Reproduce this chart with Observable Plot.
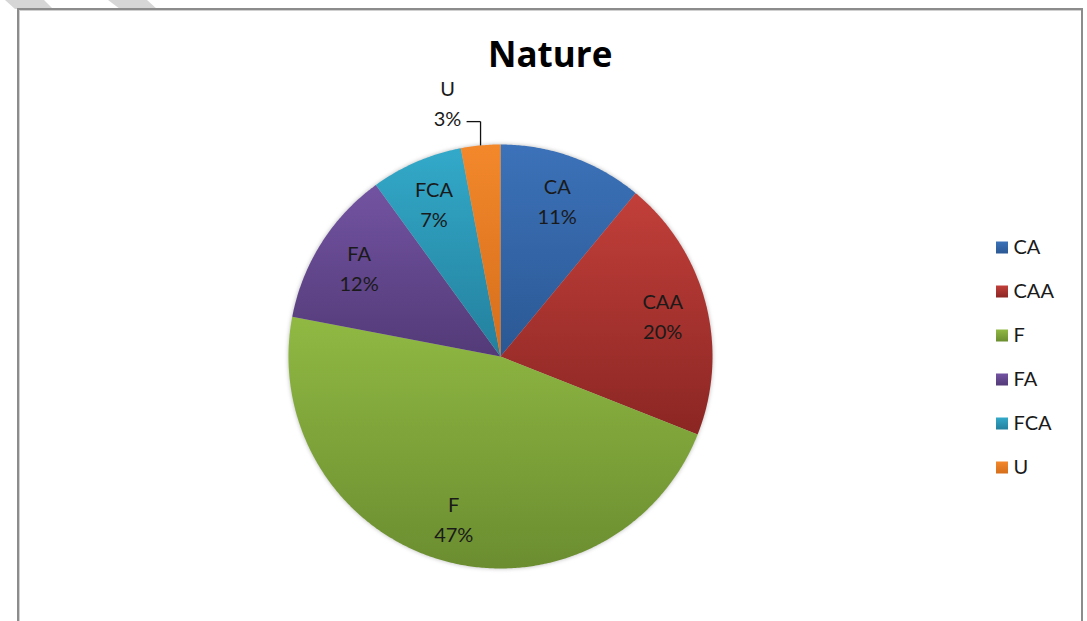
<!DOCTYPE html>
<html>
<head>
<meta charset="utf-8">
<script src="https://cdn.jsdelivr.net/npm/d3@7"></script>
<script src="https://cdn.jsdelivr.net/npm/@observablehq/plot@0.6"></script>
<style>
  html, body { margin: 0; padding: 0; background: #fff; }
  body { width: 1087px; height: 621px; overflow: hidden; position: relative; font-family: Lato, "Open Sans", sans-serif; }
  .stripe { position: absolute; left: 0; top: 0; width: 200px; height: 10px; background: #d6d6d6; }
  #frame { position: absolute; left: 17px; top: 8px; width: 1066px; height: 700px; box-sizing: border-box;
           border: 2px solid #8c8c8c; box-shadow: inset 1px 1px 0 #d0d0d0; background: #fff; }
  #title { position: absolute; left: 488px; width: 122px; top: 36px; text-align: center; white-space: nowrap;
           font-family: "Open Sans", Lato, sans-serif; font-weight: 700; font-size: 35px; line-height: 35px; color: #000; }
  #main { position: absolute; left: 0; top: 0; }
  #legend { position: absolute; left: 985px; top: 0; }
  svg { overflow: visible; }
</style>
</head>
<body>
<div class="stripe" style="clip-path: polygon(5px 0, 44px 0, 53px 9px, 15px 9px);"></div>
<div class="stripe" style="clip-path: polygon(108px 0, 147px 0, 157px 9px, 120px 9px);"></div>
<div id="frame"></div>
<div id="main"></div>
<div id="title"></div>
<div id="legend"></div>
<script>
// ---- data ----
const title = "Nature";
const categories = ["CA", "CAA", "F", "FA", "FCA", "U"];
const values = [11, 20, 47, 12, 7, 3];

// ---- styles ----
const topColors    = ["#3c72b9", "#c23f3a", "#90b943", "#7253a2", "#33a9c9", "#f3882b"];
const bottomColors = ["#2b5894", "#8b2623", "#6b8d30", "#533a77", "#23809d", "#d56e1c"];
const gradIds = categories.map((c, i) => `slice-grad-${i}`);

// ---- layout ----
const W = 1087, H = 621;
const cx = 500, cy = 356, R = 212;
const labelRadius = 0.79;

// ---- geometry from data ----
const total = d3.sum(values);
let acc = 0;
const slices = categories.map((cat, i) => {
  const a0 = acc / total * 2 * Math.PI;
  acc += values[i];
  const a1 = acc / total * 2 * Math.PI;
  return {cat, value: values[i], a0, a1, mid: (a0 + a1) / 2};
});
const outline = [];
for (const s of slices) {
  outline.push({cat: s.cat, x: 0, y: 0});
  const n = Math.max(2, Math.ceil((s.a1 - s.a0) / (Math.PI / 360)));
  for (let k = 0; k <= n; k++) {
    const a = s.a0 + (s.a1 - s.a0) * k / n;
    outline.push({cat: s.cat, x: Math.sin(a), y: Math.cos(a)});
  }
  outline.push({cat: s.cat, x: 0, y: 0});
}
const inside = slices.filter(s => s.cat !== "U").map(s => ({
  x: labelRadius * Math.sin(s.mid), y: labelRadius * Math.cos(s.mid), text: `${s.cat}\n${s.value}%`
}));
const u = slices.find(s => s.cat === "U");
const elbowY = 1.108, leaderEndX = -0.16;
const ux = Math.sin(u.mid), uy = Math.cos(u.mid);
const leader = [
  {x1: ux, y1: uy, x2: ux, y2: elbowY},
  {x1: ux, y1: elbowY, x2: leaderEndX, y2: elbowY}
];
const outside = [{x: -0.25, y: 1.203, text: `${u.cat}\n${u.value}%`}];

const defs = () => {
  const d = d3.create("svg:defs");
  categories.forEach((c, i) => {
    const g = d.append("linearGradient").attr("id", gradIds[i])
      .attr("x1", 0).attr("y1", 0).attr("x2", 0).attr("y2", 1);
    g.append("stop").attr("offset", "0%").attr("stop-color", topColors[i]);
    g.append("stop").attr("offset", "100%").attr("stop-color", bottomColors[i]);
  });
  return d.node();
};

const colorScale = {type: "ordinal", domain: categories, range: gradIds.map(id => `url(#${id})`)};

const main = Plot.plot({
  width: W, height: H, margin: 0,
  style: {background: "transparent", fontFamily: "Lato, 'Open Sans', sans-serif"},
  x: {domain: [-1, 1], range: [cx - R, cx + R], axis: null},
  y: {domain: [-1, 1], range: [cy + R, cy - R], axis: null},
  color: colorScale,
  marks: [
    defs,
    Plot.line(outline, {x: "x", y: "y", z: "cat", fill: "cat", stroke: "none"}),
    Plot.text(inside, {x: "x", y: "y", text: "text", fontSize: 20, lineHeight: 1.5, fill: "#1a1a1a"}),
    Plot.link(leader, {x1: "x1", y1: "y1", x2: "x2", y2: "y2", stroke: "#111", strokeWidth: 1.3}),
    Plot.text(outside, {x: "x", y: "y", text: "text", fontSize: 20, lineHeight: 1.5, fill: "#1a1a1a"})
  ]
});
d3.select(main).select('g[aria-label="line"]').style("filter", "drop-shadow(0px 0px 2px rgba(0,0,0,0.28))");
document.getElementById("main").appendChild(main);
document.getElementById("title").textContent = title;

const legend = Plot.plot({
  width: 100, height: H, margin: 0,
  style: {background: "transparent", fontFamily: "Lato, 'Open Sans', sans-serif"},
  y: {type: "point", domain: categories, range: [246, 467], padding: 0, axis: null},
  color: colorScale,
  marks: [
    Plot.dot(categories, {y: d => d, frameAnchor: "left", dx: 16.5, symbol: "square",
      r: 12 / Math.sqrt(Math.PI), fill: d => d, stroke: "none"}),
    Plot.text(categories, {y: d => d, text: d => d, frameAnchor: "left", dx: 28,
      textAnchor: "start", fontSize: 20, fill: "#1a1a1a"})
  ]
});
document.getElementById("legend").appendChild(legend);
</script>
</body>
</html>
